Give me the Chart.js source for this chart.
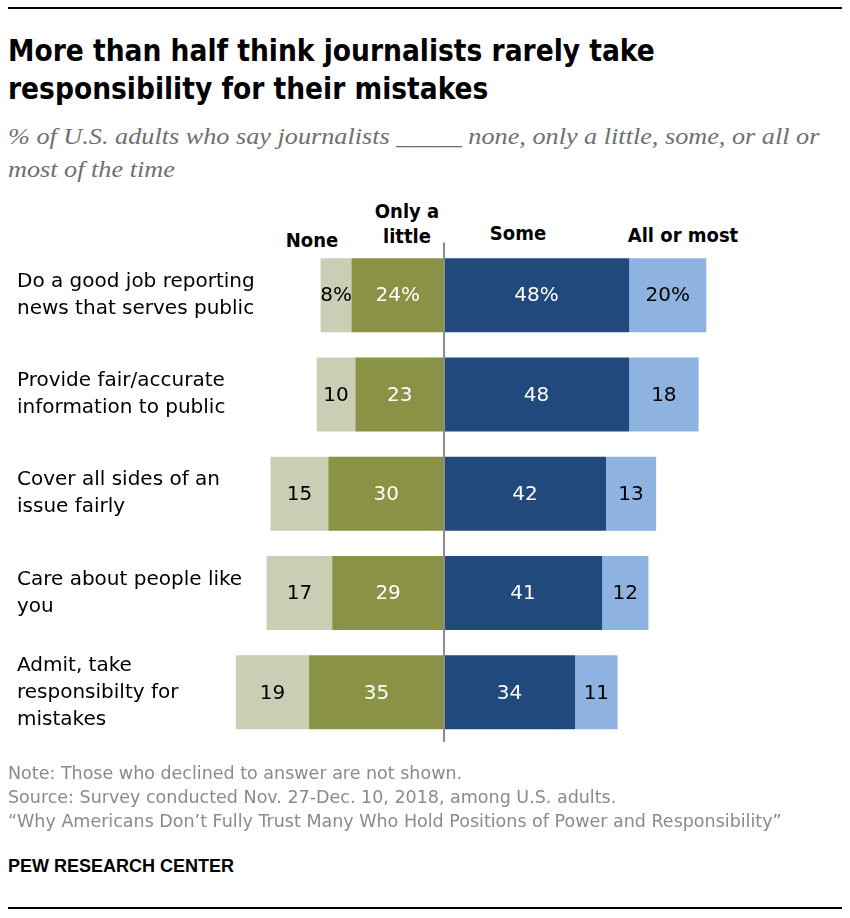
<!DOCTYPE html>
<html>
<head>
<meta charset="utf-8">
<script src="https://cdn.jsdelivr.net/npm/chart.js@4.4.0/dist/chart.umd.min.js"></script>
<style>
  body { margin: 0; background: #fff; width: 850px; height: 918px; position: relative; overflow: hidden;
         font-family: "DejaVu Sans", sans-serif; }
  .rule { position: absolute; left: 8px; width: 834px; height: 2px; background: #000; }
  #title { position: absolute; left: 8px; top: 32px; font: bold 29.5px/38px "DejaVu Sans Condensed", "Liberation Sans", sans-serif; color: #000; white-space: nowrap; }
  #subtitle { position: absolute; left: 8px; top: 120px; font: italic 23px/33px "Liberation Serif", serif; color: #6f6f6f;
              transform: scaleX(1.14); transform-origin: left top; white-space: nowrap; }
  .head { position: absolute; font: bold 20px/25px "DejaVu Sans Condensed", "Liberation Sans", sans-serif; color: #000; text-align: center; transform: translateX(-50%); }
  #wrap { position: absolute; left: 0; top: 190px; width: 850px; height: 582px; }
  #notes { position: absolute; left: 8px; top: 761px; font: 17.5px/24px "DejaVu Sans", sans-serif; color: #8a8a8a; white-space: nowrap; }
  #brand { position: absolute; left: 8px; top: 855px; font: bold 18px/22px "Liberation Sans", Arial, sans-serif; color: #000; }
</style>
</head>
<body>
<div class="rule" style="top:7px"></div>
<div id="title">More than half think journalists rarely take<br>responsibility for their mistakes</div>
<div id="subtitle">% of U.S. adults who say journalists _____ none, only a little, some, or all or<br>most of the time</div>
<div class="head" style="left:312px;top:228px">None</div>
<div class="head" style="left:407px;top:199px">Only a<br>little</div>
<div class="head" style="left:518px;top:221px">Some</div>
<div class="head" style="left:683px;top:223px">All or most</div>
<div id="wrap"><canvas id="chart"></canvas></div>
<div id="notes">Note: Those who declined to answer are not shown.<br>Source: Survey conducted Nov. 27-Dec. 10, 2018, among U.S. adults.<br>“Why Americans Don’t Fully Trust Many Who Hold Positions of Power and Responsibility”</div>
<div id="brand">PEW RESEARCH CENTER</div>
<div class="rule" style="top:907px"></div>

<script>
// categories and values
const categories = [
  ["Do a good job reporting", "news that serves public"],
  ["Provide fair/accurate", "information to public"],
  ["Cover all sides of an", "issue fairly"],
  ["Care about people like", "you"],
  ["Admit, take", "responsibilty for", "mistakes"],
];
const none = [8, 10, 15, 17, 19];
const onlyALittle = [24, 23, 30, 29, 35];
const some = [48, 48, 42, 41, 34];
const allOrMost = [20, 18, 13, 12, 11];

const labelFont = '"DejaVu Sans", sans-serif';

// negative side: "Only a little" sits next to the center, "None" outside it
const datasets = [
  { label: "Only a little", data: onlyALittle.map(v => -v), backgroundColor: "#8a9245", textColor: "#fff" },
  { label: "None", data: none.map(v => -v), backgroundColor: "#c9ceb5", textColor: "#000" },
  { label: "Some", data: some, backgroundColor: "#22497c", textColor: "#fff" },
  { label: "All or most", data: allOrMost, backgroundColor: "#8eb3e0", textColor: "#000" },
];

const valueLabels = {
  id: "valueLabels",
  afterDatasetsDraw(chart) {
    const ctx = chart.ctx;
    ctx.save();
    ctx.font = "20px " + labelFont;
    ctx.textAlign = "center";
    ctx.textBaseline = "middle";
    chart.data.datasets.forEach((ds, i) => {
      const meta = chart.getDatasetMeta(i);
      meta.data.forEach((bar, j) => {
        const v = Math.abs(ds.data[j]);
        const txt = j === 0 ? v + "%" : String(v);
        ctx.fillStyle = ds.textColor;
        ctx.fillText(txt, (bar.x + bar.base) / 2, bar.y + 1);
      });
    });
    // center line
    const x0 = chart.scales.x.getPixelForValue(0);
    ctx.strokeStyle = "#8c8c8c";
    ctx.lineWidth = 2;
    ctx.beginPath();
    ctx.moveTo(x0, chart.chartArea.top - 3);
    ctx.lineTo(x0, chart.chartArea.bottom);
    ctx.stroke();
    ctx.restore();
  }
};

new Chart(document.getElementById("chart"), {
  type: "bar",
  data: { labels: categories, datasets },
  options: {
    indexAxis: "y",
    responsive: true,
    maintainAspectRatio: false,
    animation: false,
    layout: { padding: { left: 17, right: 136, top: 55.5, bottom: 8.5 } },
    // the long labels need a wide axis, so the left bars are allowed past the chart area
    datasets: { bar: { categoryPercentage: 1, barPercentage: 0.745, clip: false } },
    scales: {
      x: { stacked: true, min: -47.2, max: 70, display: false },
      y: {
        stacked: true,
        grid: { display: false },
        border: { display: false },
        ticks: {
          crossAlign: "far",
          color: "#000",
          font: { size: 20, family: labelFont, lineHeight: 1.35 },
        },
        afterFit(scale) { scale.width = 245; },
      },
    },
    plugins: { legend: { display: false }, tooltip: { enabled: false } },
  },
  plugins: [valueLabels],
});
</script>
</body>
</html>
